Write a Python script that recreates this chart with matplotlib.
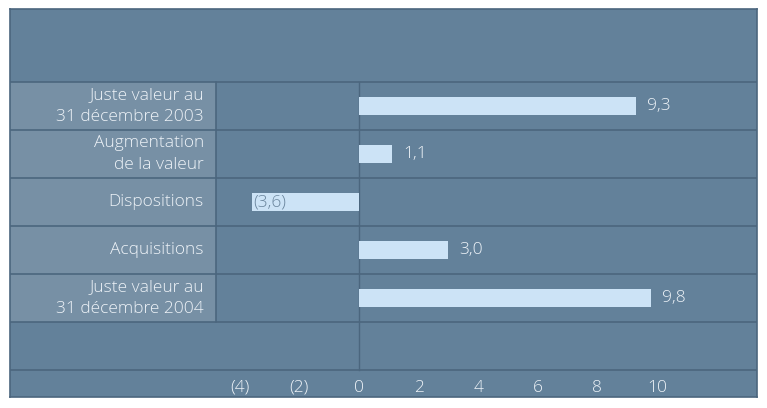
import matplotlib.pyplot as plt
from matplotlib.patches import Rectangle

categories = ['Juste valeur au\n31 décembre 2003', 'Augmentation\nde la valeur',
              'Dispositions', 'Acquisitions', 'Juste valeur au\n31 décembre 2004']
values = [9.3, 1.1, -3.6, 3.0, 9.8]
value_labels = ['9,3', '1,1', '(3,6)', '3,0', '9,8']
tick_values = [-4, -2, 0, 2, 4, 6, 8, 10]
tick_labels = ['(4)', '(2)', '0', '2', '4', '6', '8', '10']

BG = '#63819a'
LABEL_BG = '#7790a5'
LINE = '#4b667e'
BAR = '#cce3f6'
TXT = '#eef3f8'

plt.rcParams['font.family'] = ['Open Sans', 'DejaVu Sans']

W, H = 767, 408
fig = plt.figure(figsize=(W / 100, H / 100), dpi=100)
fig.patch.set_facecolor('white')

# panel in pixels: x 10..757, y 9..397
ax = fig.add_axes([10 / W, 1 - 397 / H, 747 / W, 388 / H])
ax.set_facecolor(BG)
px = 29.8   # pixels per unit
x0 = 359    # pixel of zero
ax.set_xlim((10 - x0) / px, (757 - x0) / px)
ax.set_ylim((397 - 106) / 48, (9 - 106) / 48)
for s in ax.spines.values():
    s.set_color(LINE)
    s.set_linewidth(1.2)
ax.set_xticks([])
ax.set_yticks([])

n = len(categories)
xl = (10 - x0) / px
xc = (216 - x0) / px
ax.add_patch(Rectangle((xl, -0.5), xc - xl, n, facecolor=LABEL_BG, edgecolor='none', zorder=1))

for yy in [i - 0.5 for i in range(n + 2)]:
    ax.axhline(yy, color=LINE, lw=1.2, zorder=2)
ax.plot([xc, xc], [-0.5, n - 0.5], color=LINE, lw=1.2, zorder=2)
ax.plot([0, 0], [-0.5, n + 0.5], color=LINE, lw=1.0, zorder=2)

ax.barh(range(n), values, height=0.36, color=BAR, zorder=3)

fs = 12.5
fw = 'light'
for i, (cat, v, lab) in enumerate(zip(categories, values, value_labels)):
    ax.text((204 - x0) / px, i, cat, ha='right', va='center', color=TXT,
            fontsize=fs, fontweight=fw, linespacing=1.45, zorder=4)
    if v >= 0:
        ax.text(v + 0.37, i, lab, ha='left', va='center', color=TXT,
                fontsize=fs, fontweight=fw, zorder=4)
    else:
        ax.text(v + 0.05, i, lab, ha='left', va='center', color='#6a859d',
                fontsize=fs, fontweight=fw, zorder=4)

for tv, tl in zip(tick_values, tick_labels):
    ax.text(tv, (388 - 106) / 48, tl, ha='center', va='center', color=TXT,
            fontsize=fs, fontweight=fw, zorder=4)

fig.savefig('out.png', dpi=100, facecolor='white')
